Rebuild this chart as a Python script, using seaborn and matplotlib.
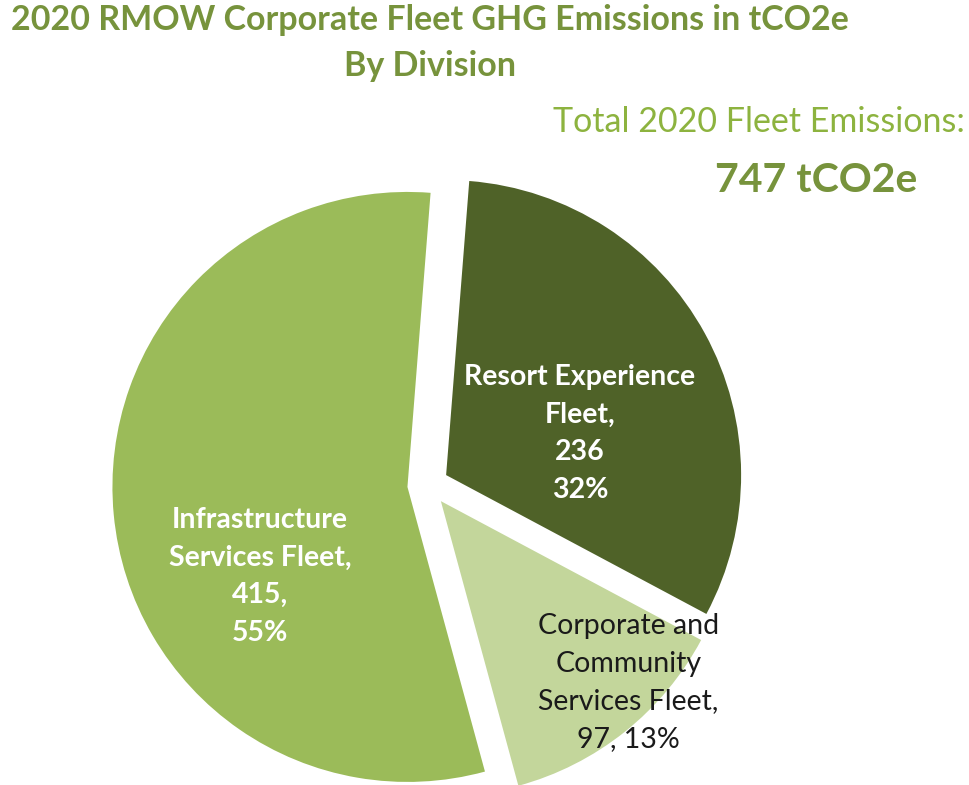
import matplotlib.pyplot as plt
import seaborn as sns
import numpy as np

# -----------------------------
# data
# -----------------------------
divisions = ["Resort Experience Fleet", "Corporate and Community Services Fleet",
             "Infrastructure Services Fleet"]
emissions = [236, 97, 415]
pct_labels = ["32%", "13%", "55%"]
slice_text = ["Resort Experience\nFleet,\n236\n32%",
              "Corporate and\nCommunity\nServices Fleet,\n97, 13%",
              "Infrastructure\nServices Fleet,\n415,\n55%"]
total_value = 747

colors = ["#4F6228", "#C3D69B", "#9BBB59"]
title_color = "#77933C"

sns.set_theme(style="white")
plt.rcParams["font.family"] = ["Lato", "DejaVu Sans"]

# -----------------------------
# figure
# -----------------------------
fig = plt.figure(figsize=(9.69, 7.85), dpi=100)
R_px = 295
cx, cy = 428, 485
half = 1.2
w = 2 * half * R_px
ax = fig.add_axes([(cx - w / 2) / 969, (785 - cy - w / 2) / 785, w / 969, w / 785])

wedges, _ = ax.pie(emissions, colors=colors, startangle=85.5, counterclock=False,
                   explode=[0.07, 0.07, 0.07], radius=1.0,
                   wedgeprops=dict(linewidth=0))
for wd in wedges:
    wd.set_clip_on(False)
ax.set_xlim(-half, half)
ax.set_ylim(-half, half)
ax.set_aspect("equal")
ax.axis("off")

# label placement (relative to pie centre, in radius units)
label_pos = [(0.515, 0.175), (0.68, -0.67), (-0.57, -0.31)]
label_col = ["white", "#1a1a1a", "white"]
label_wt = ["bold", "normal", "bold"]
for txt, (lx, ly), c, wt in zip(slice_text, label_pos, label_col, label_wt):
    ax.text(lx, ly, txt, ha="center", va="center", color=c, fontsize=20.5,
            fontweight=wt, linespacing=1.55, clip_on=False)

# -----------------------------
# titles
# -----------------------------
fig.text(430 / 969, 1 - 20 / 785, "2020 RMOW Corporate Fleet GHG Emissions in tCO2e",
         ha="center", va="center", fontsize=24.5, fontweight="bold", color=title_color)
fig.text(430 / 969, 1 - 66 / 785, "By Division",
         ha="center", va="center", fontsize=24.5, fontweight="bold", color=title_color)
fig.text(759 / 969, 1 - 122 / 785, "Total 2020 Fleet Emissions:",
         ha="center", va="center", fontsize=24.5, color="#8DB33F")
fig.text(816 / 969, 1 - 180 / 785, f"{total_value} tCO2e",
         ha="center", va="center", fontsize=29.5, fontweight="bold", color=title_color)

plt.savefig("out.png", dpi=100)
